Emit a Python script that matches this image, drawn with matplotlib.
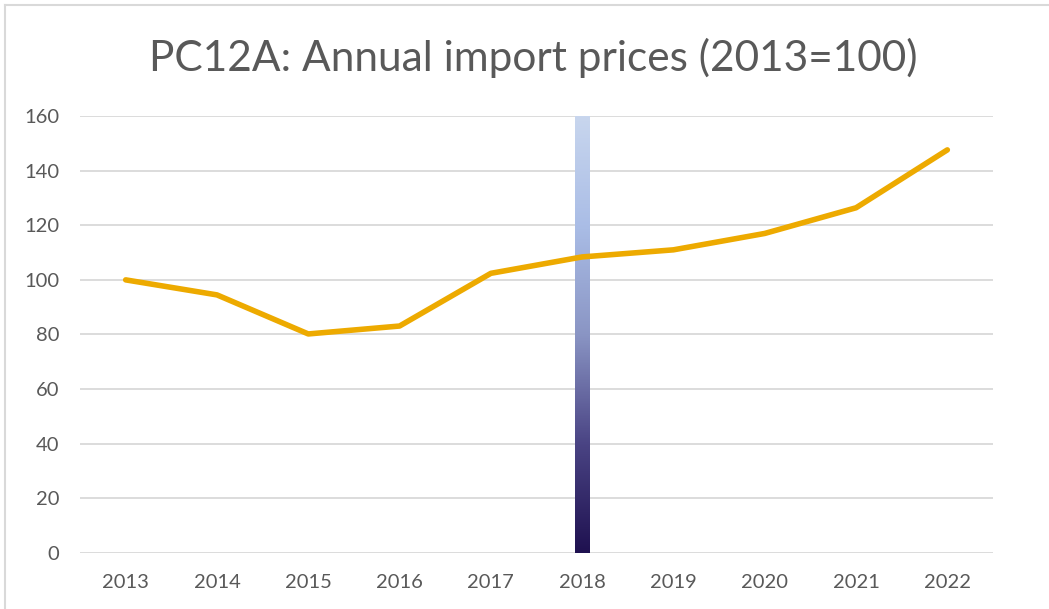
import matplotlib
matplotlib.use("Agg")
import matplotlib.pyplot as plt
from matplotlib.colors import LinearSegmentedColormap
from matplotlib.lines import Line2D
import numpy as np

# -- data --
YEARS = ["2013", "2014", "2015", "2016", "2017", "2018", "2019", "2020", "2021", "2022"]
PRICES = [100, 94.5, 80.2, 83.1, 102.4, 108.4, 111.0, 117.0, 126.4, 147.6]
MARK_YEAR = "2018"
MARK_TOP = 160

LINE_COLOR = "#EDAA00"
TEXT_COLOR = "#595959"
GRID_COLOR = "#D9D9D9"

plt.rcParams["font.family"] = ["Lato", "DejaVu Sans"]

fig = plt.figure(figsize=(10.49, 6.09), dpi=100)
ax = fig.add_axes([0.0763, 0.0920, 0.8703, 0.7175])

x = np.arange(len(YEARS))

# gradient marker bar behind the line
cmap = LinearSegmentedColormap.from_list(
    "bar", ["#1f1150", "#4a4484", "#8a95c4", "#aabde6", "#c8d6ee"])
grad = np.linspace(0, 1, 256).reshape(-1, 1)
xi = YEARS.index(MARK_YEAR)
w = 0.155
ax.imshow(grad, cmap=cmap, origin="lower", aspect="auto",
          extent=(xi - w / 2, xi + w / 2, 0, MARK_TOP), zorder=2)

ax.plot(x, PRICES, color=LINE_COLOR, lw=4, solid_capstyle="round",
        solid_joinstyle="round", zorder=3)

ax.set_xlim(-0.5, len(YEARS) - 0.5)
ax.set_ylim(0, 160)
ax.set_yticks(range(0, 161, 20))
ax.set_xticks(x)
ax.set_xticklabels(YEARS)
ax.tick_params(colors=TEXT_COLOR, labelsize=14.5, length=0)
ax.tick_params(axis="y", pad=15)
ax.tick_params(axis="x", pad=15)
ax.grid(axis="y", color=GRID_COLOR, lw=1.3, zorder=0)
ax.set_axisbelow(True)
for s in ax.spines.values():
    s.set_visible(False)

fig.text(0.508, 0.905, "PC12A: Annual import prices (2013=100)", ha="center",
         va="center", fontsize=30.5, color=TEXT_COLOR)

# chart frame (top and left edges visible)
fig.add_artist(Line2D([0.005, 1], [0.991, 0.991], color=GRID_COLOR, lw=1.5,
                      transform=fig.transFigure))
fig.add_artist(Line2D([0.005, 0.005], [0, 0.991], color=GRID_COLOR, lw=1.5,
                      transform=fig.transFigure))

fig.savefig("out.png", dpi=100)
